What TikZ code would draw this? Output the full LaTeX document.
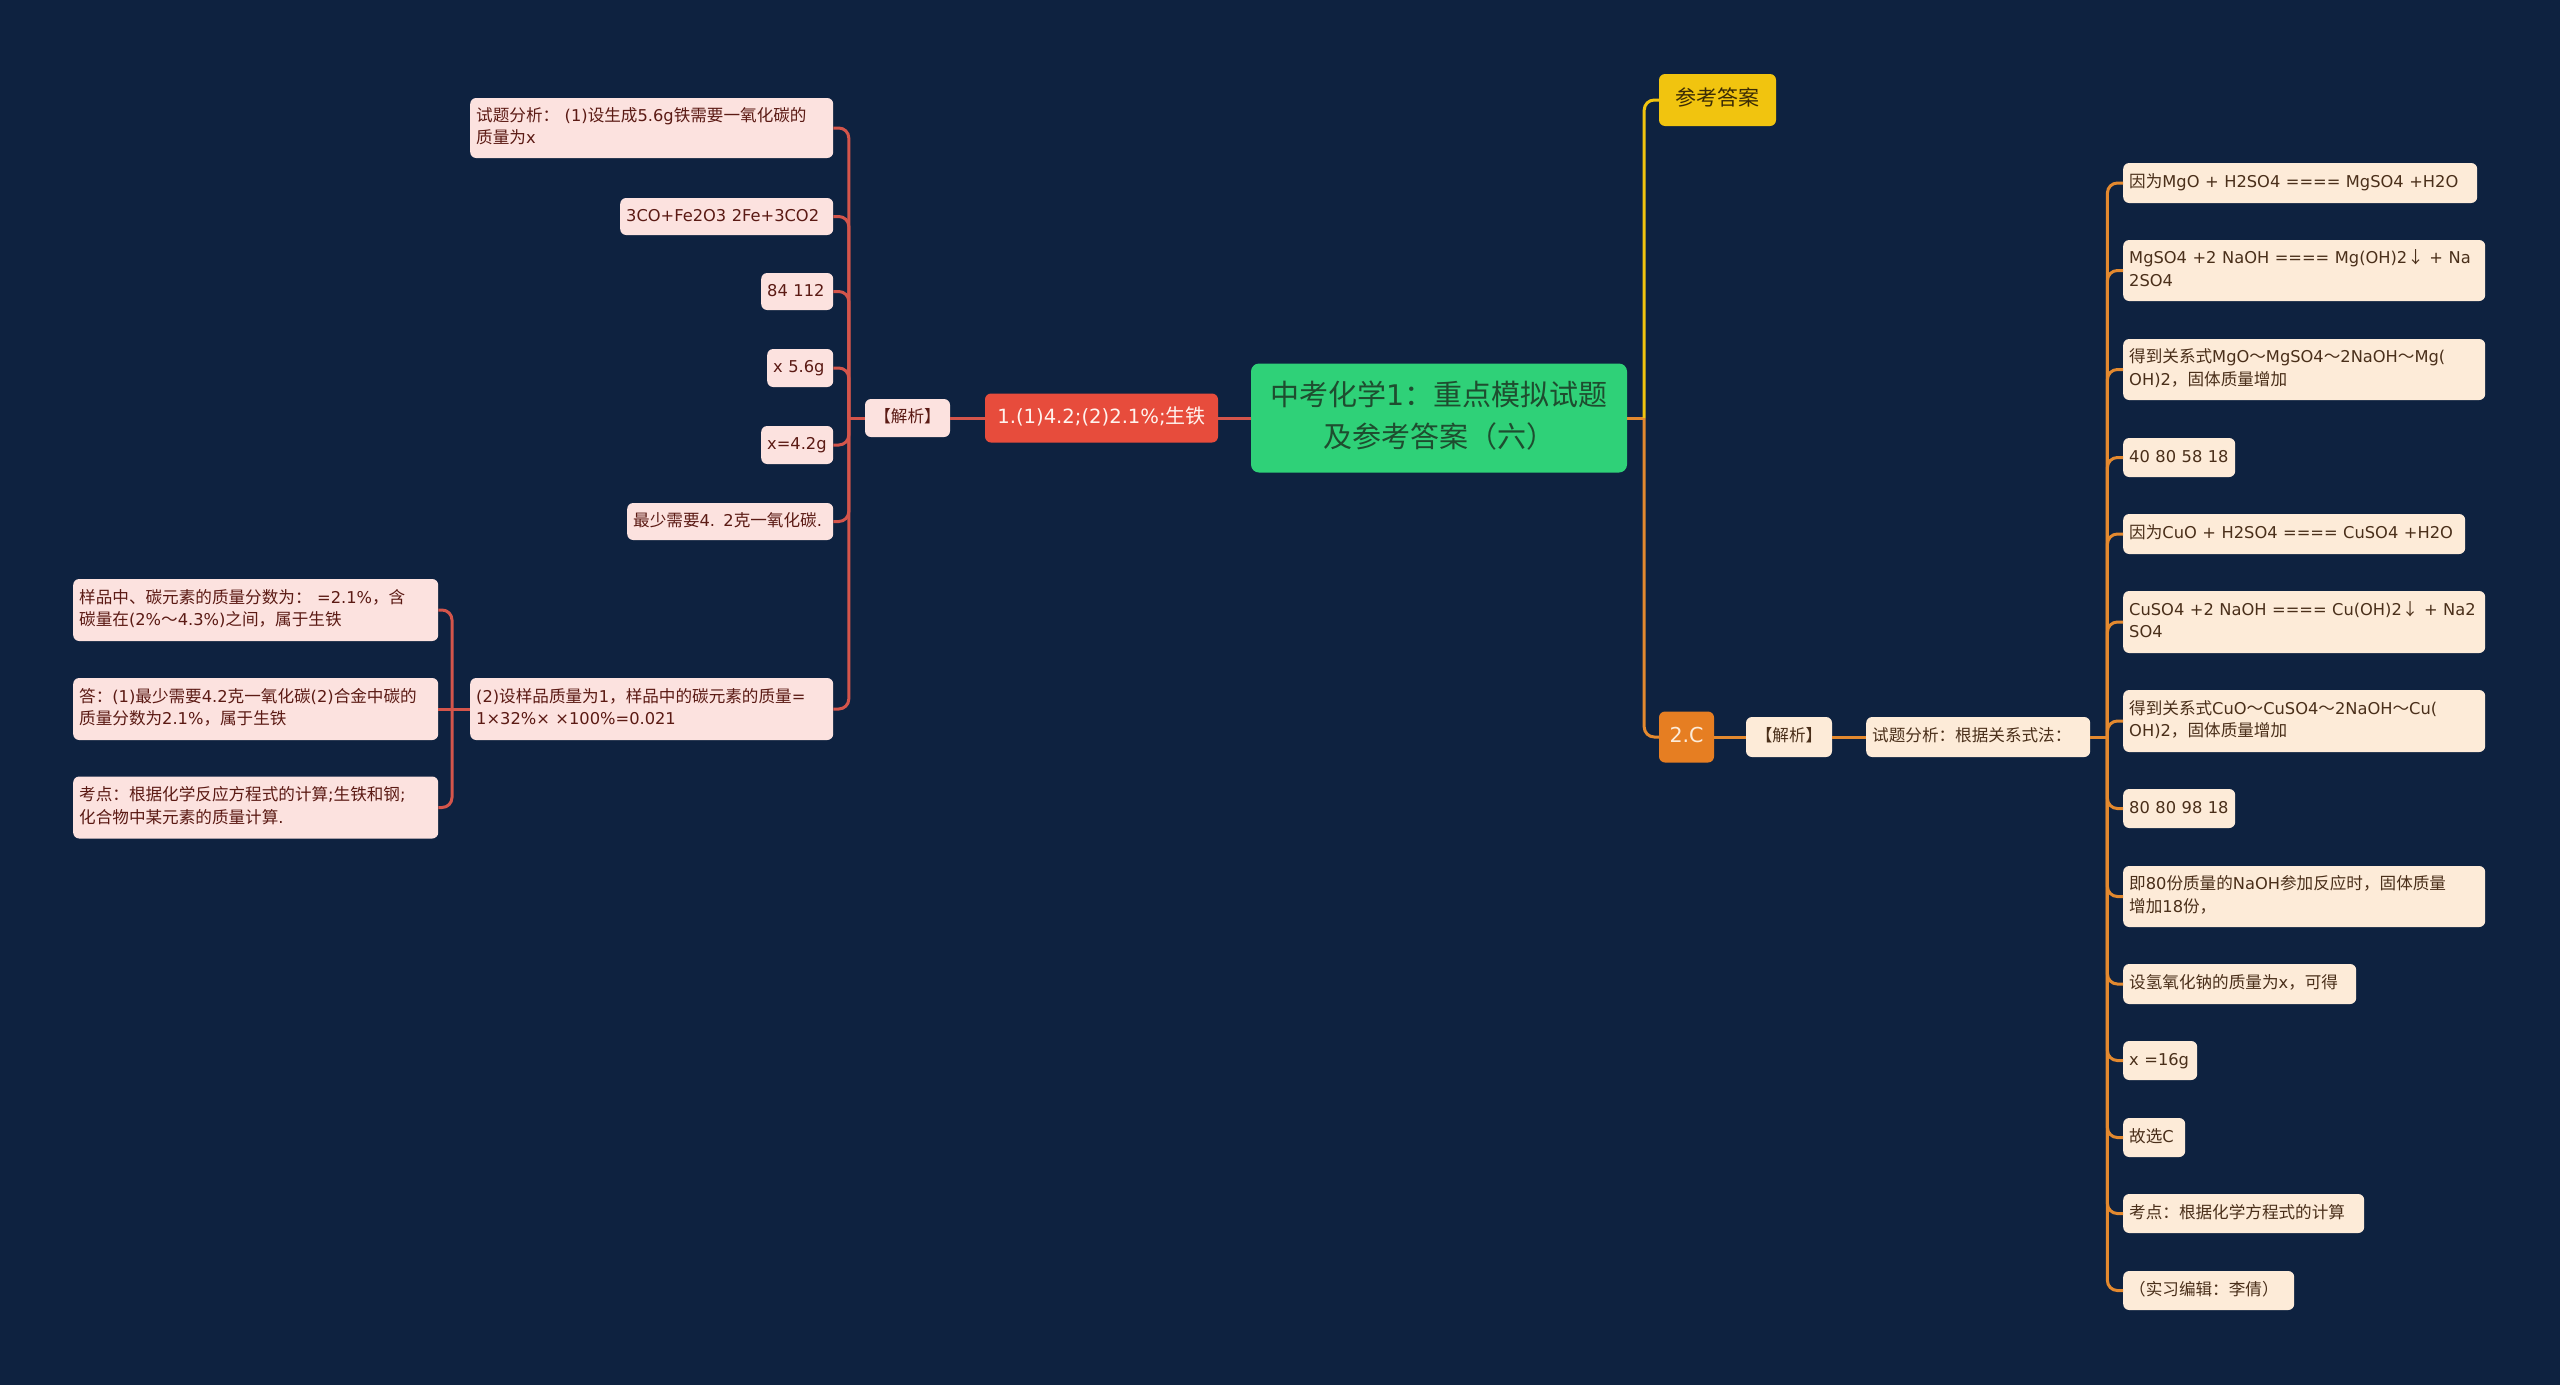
\documentclass[tikz,border=0pt]{standalone}
\usepackage{fontspec}
\setmainfont{Noto Sans CJK SC}
\newfontfamily\latinfont[Scale=0.98]{DejaVu Sans}
\XeTeXinterchartokenstate=1
\newXeTeXintercharclass\latclass
\makeatletter
\count@="21
\loop
  \XeTeXcharclass\count@=\latclass
  \advance\count@\@ne
  \ifnum\count@<"7F
\repeat
\XeTeXcharclass"D7=\latclass
\count@=0
\loop
  \XeTeXinterchartoks \count@ \latclass = {\begingroup\latinfont}
  \XeTeXinterchartoks \latclass \count@ = {\endgroup}
  \advance\count@\@ne
  \ifnum\count@<\latclass
\repeat
\makeatother
\XeTeXinterchartoks 4095 \latclass = {\begingroup\latinfont}
\XeTeXinterchartoks \latclass 4095 = {\endgroup}
\newcommand\T[1]{\mbox{\strut #1}}
\newcommand\leaffont{\fontsize{16.6}{22.6}\selectfont}
\definecolor{bgc}{HTML}{0E2240}
\definecolor{gfill}{HTML}{2FD178}
\definecolor{gtext}{HTML}{1E4D2F}
\definecolor{rfillc}{HTML}{E74C3C}
\definecolor{rtextc}{HTML}{FFF3EE}
\definecolor{lfill}{HTML}{FCE2DF}
\definecolor{ltext}{HTML}{5B1A14}
\definecolor{lcol}{HTML}{D4554B}
\definecolor{yfill}{HTML}{F1C40F}
\definecolor{ytext}{HTML}{3B2B05}
\definecolor{ocol}{HTML}{E3892F}
\definecolor{ofill}{HTML}{E67E22}
\definecolor{otext}{HTML}{FCEBD9}
\definecolor{pfill}{HTML}{FDEBD8}
\definecolor{ptext}{HTML}{4A2F1A}
\tikzset{
 box/.style={rounded corners=6pt, inner xsep=6pt, inner ysep=0pt, align=left},
 lleaf/.style={box, anchor=west, fill=lfill, text=ltext, font=\leaffont},
 rleaf/.style={box, anchor=west, fill=pfill, text=ptext, font=\leaffont},
 central/.style={box, rounded corners=8pt, fill=gfill, text=gtext, font=\fontsize{29}{42}\selectfont, minimum width=376pt, minimum height=109pt, align=center},
 rednode/.style={box, fill=rfillc, text=rtextc, font=\fontsize{20}{26}\selectfont, minimum width=233pt, minimum height=49pt, align=center},
 ynode/.style={box, fill=yfill, text=ytext, font=\fontsize{21}{27}\selectfont, minimum width=117pt, minimum height=52pt, align=center},
 onode/.style={box, fill=ofill, text=otext, font=\fontsize{21}{27}\selectfont, minimum width=55pt, minimum height=51pt, align=center},
 lline/.style={draw=lcol, line width=3pt, rounded corners=10pt},
 oline/.style={draw=ocol, line width=3pt, rounded corners=10pt},
 yline/.style={draw=yfill, line width=3pt, rounded corners=10pt},
}
\begin{document}
\begin{tikzpicture}[x=1pt,y=-1pt]
\useasboundingbox (0,0) rectangle (2560,1385);
\fill[bgc] (0,0) rectangle (2560,1385);

% root and first level
\node[central] (root) at (1439,418) {\T{中考化学1：重点模拟试题}\\\T{及参考答案（六）}};
\node[rednode] (a1) at (1101.5,418) {\T{1.(1)4.2;(2)2.1\%;生铁}};
\node[ynode] (ans) at (1717.5,100) {\T{参考答案}};
\node[onode] (q2) at (1686.5,737) {\T{2.C}};

% left branch
\node[lleaf, anchor=center, minimum width=85pt, minimum height=38pt, align=center] (jl) at (907.5,418) {\T{【解析】}};
\node[lleaf, text width=351pt, minimum height=60pt] (c1) at (470,128) {\T{试题分析： (1)设生成5.6g铁需要一氧化碳的}\\\T{质量为x}};
\node[lleaf, text width=201pt, minimum height=37pt] (c2) at (620,216.5) {\T{3CO+Fe2O3 2Fe+3CO2}};
\node[lleaf, text width=60pt, minimum height=37pt] (c3) at (761,291.5) {\T{84 112}};
\node[lleaf, text width=54pt, minimum height=38pt] (c4) at (767,368) {\T{x 5.6g}};
\node[lleaf, text width=60pt, minimum height=38pt] (c5) at (761,445) {\T{x=4.2g}};
\node[lleaf, text width=194pt, minimum height=37pt] (c6) at (627,521.5) {\T{最少需要4. 2克一氧化碳.}};
\node[lleaf, text width=351pt, minimum height=62pt] (c7) at (470,709) {\T{(2)设样品质量为1，样品中的碳元素的质量=}\\\T{1×32\%× ×100\%=0.021}};
\node[lleaf, text width=353pt, minimum height=62pt] (d1) at (73,610) {\T{样品中、碳元素的质量分数为： =2.1\%，含}\\\T{碳量在(2\%～4.3\%)之间，属于生铁}};
\node[lleaf, text width=353pt, minimum height=62pt] (d2) at (73,709) {\T{答：(1)最少需要4.2克一氧化碳(2)合金中碳的}\\\T{质量分数为2.1\%，属于生铁}};
\node[lleaf, text width=353pt, minimum height=62pt] (d3) at (73,807.5) {\T{考点：根据化学反应方程式的计算;生铁和钢;}\\\T{化合物中某元素的质量计算.}};

% right branch
\node[rleaf, anchor=center, minimum width=86pt, minimum height=40pt, align=center] (jr) at (1789,737) {\T{【解析】}};
\node[rleaf, text width=212pt, minimum height=40pt] (ana) at (1866,737) {\T{试题分析：根据关系式法：}};
\node[rleaf, text width=342pt, minimum height=40pt] (r1) at (2123,183) {\T{因为MgO + H2SO4 ==== MgSO4 +H2O}};
\node[rleaf, text width=350pt, minimum height=61pt] (r2) at (2123,270.5) {\T{MgSO4 +2 NaOH ==== Mg(OH)2↓ + Na}\\\T{2SO4}};
\node[rleaf, text width=350pt, minimum height=61pt] (r3) at (2123,369.5) {\T{得到关系式MgO～MgSO4～2NaOH～Mg(}\\\T{OH)2，固体质量增加}};
\node[rleaf, text width=100pt, minimum height=39pt] (r4) at (2123,457.5) {\T{40 80 58 18}};
\node[rleaf, text width=330pt, minimum height=40pt] (r5) at (2123,534) {\T{因为CuO + H2SO4 ==== CuSO4 +H2O}};
\node[rleaf, text width=350pt, minimum height=62pt] (r6) at (2123,622) {\T{CuSO4 +2 NaOH ==== Cu(OH)2↓ + Na2}\\\T{SO4}};
\node[rleaf, text width=350pt, minimum height=62pt] (r7) at (2123,721) {\T{得到关系式CuO～CuSO4～2NaOH～Cu(}\\\T{OH)2，固体质量增加}};
\node[rleaf, text width=100pt, minimum height=39pt] (r8) at (2123,808.5) {\T{80 80 98 18}};
\node[rleaf, text width=350pt, minimum height=61pt] (r9) at (2123,896.5) {\T{即80份质量的NaOH参加反应时，固体质量}\\\T{增加18份，}};
\node[rleaf, text width=221pt, minimum height=40pt] (r10) at (2123,984) {\T{设氢氧化钠的质量为x，可得}};
\node[rleaf, text width=62pt, minimum height=39pt] (r11) at (2123,1060.5) {\T{x =16g}};
\node[rleaf, text width=50pt, minimum height=39pt] (r12) at (2123,1137.5) {\T{故选C}};
\node[rleaf, text width=229pt, minimum height=39pt] (r13) at (2123,1213.5) {\T{考点：根据化学方程式的计算}};
\node[rleaf, text width=159pt, minimum height=39pt] (r14) at (2123,1290.5) {\T{（实习编辑：李倩）}};

% connectors left
\draw[lline] (root.west) -- (a1.east);
\draw[lline] (a1.west) -- (jl.east);
\coordinate (jlj) at ([xshift=-16pt]jl.west);
\draw[lline] (jl.west) -- (jlj);
\foreach \n in {c1,c2,c3,c4,c5,c6,c7} \draw[lline] (jlj) |- (\n.east);
\coordinate (lj2) at ([xshift=-18pt]c7.west);
\draw[lline] (c7.west) -- (lj2);
\draw[lline] (lj2) |- (d1.east);
\draw[lline] (lj2) -- (d2.east);
\draw[lline] (lj2) |- (d3.east);

% connectors right
\coordinate (rj) at ([xshift=17pt]root.east);
\draw[oline] (root.east) -- (rj);
\draw[yline] (rj) |- (ans.west);
\draw[oline] (rj) |- (q2.west);
\draw[oline] (q2.east) -- (jr.west);
\draw[oline] (jr.east) -- (ana.west);
\coordinate (rj2) at ([xshift=17pt]ana.east);
\draw[oline] (ana.east) -- (rj2);
\foreach \n in {r1,r2,r3,r4,r5,r6,r7,r8,r9,r10,r11,r12,r13,r14} \draw[oline] (rj2) |- (\n.west);
\end{tikzpicture}
\end{document}
